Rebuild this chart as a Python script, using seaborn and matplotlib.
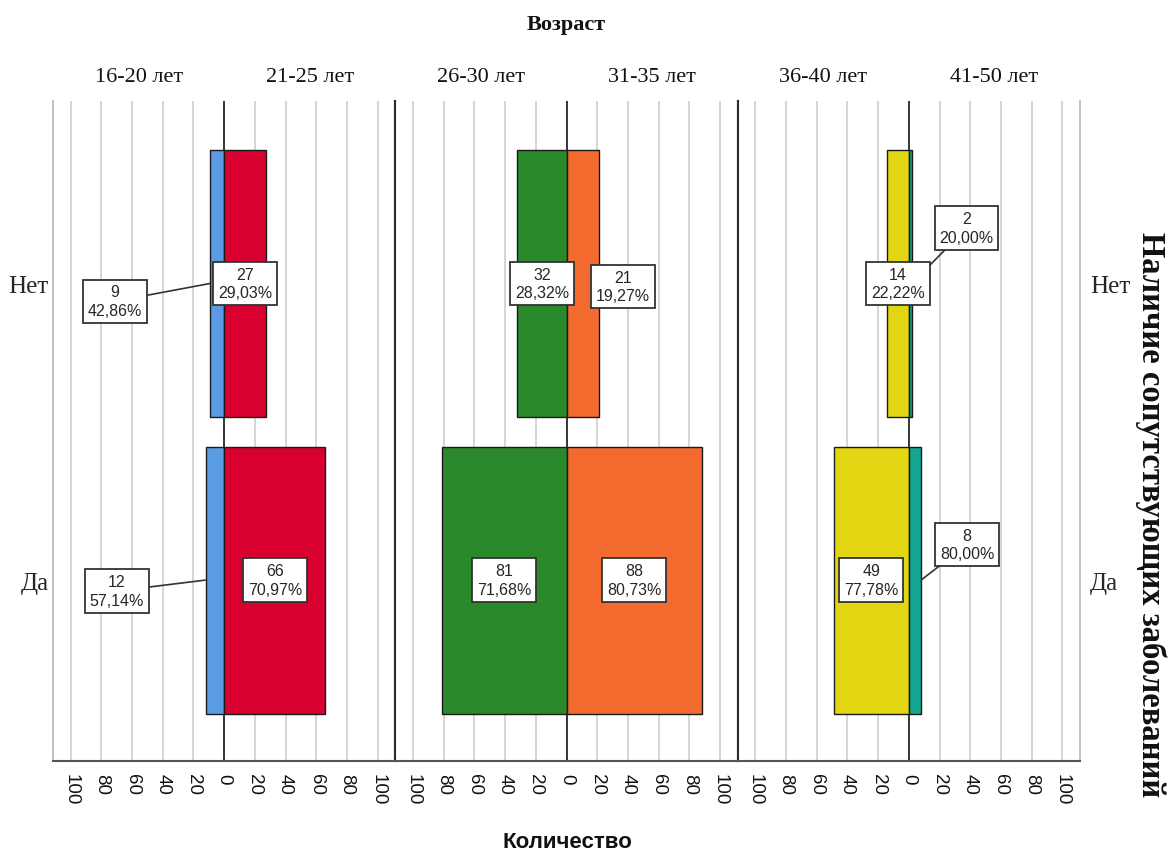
import matplotlib
matplotlib.use('Agg')
import matplotlib.pyplot as plt
import matplotlib.transforms as mtransforms
import seaborn as sns
import pandas as pd

# ---------------- data ----------------
age_groups = ['16-20 лет', '21-25 лет', '26-30 лет', '31-35 лет', '36-40 лет', '41-50 лет']
categories = ['Нет', 'Да']
counts_no = [9, 27, 32, 21, 14, 2]
counts_yes = [12, 66, 81, 88, 49, 8]
x_ticks = [-100, -80, -60, -40, -20, 0, 20, 40, 60, 80, 100]

title_top = 'Возраст'
x_title = 'Количество'
y_title = 'Наличие сопутствующих заболеваний'

# ---------------- style ----------------
colors = ['#5A9BE4', '#D7002F', '#2A8A2B', '#F26A2D', '#E2D612', '#13A58F']
XMAX = 111.5
# label overrides: (group index, category) -> (x, y offset, draw connector)
label_override = {
    (0, 'Нет'): (-71, 0.06, True),
    (0, 'Да'): (-70, 0.037, True),
    (3, 'Нет'): (37, 0.01, False),
    (5, 'Нет'): (37.6, -0.187, True),
    (5, 'Да'): (38, -0.12, True),
}

sns.set_style('white')
plt.rcParams['font.family'] = ['Liberation Sans', 'DejaVu Sans']
SERIF = ['Liberation Serif', 'DejaVu Serif']

rows = []
for i, g in enumerate(age_groups):
    total = counts_no[i] + counts_yes[i]
    for cat, c in zip(categories, [counts_no[i], counts_yes[i]]):
        sign = -1 if i % 2 == 0 else 1
        rows.append(dict(group=i, age=g, cat=cat, count=c, signed=sign * c,
                         pct=100.0 * c / total))
df = pd.DataFrame(rows)

fig, axes = plt.subplots(1, 3, figsize=(11.68, 8.54), dpi=100)
fig.subplots_adjust(left=53 / 1168, right=1080 / 1168, top=1 - 102 / 854,
                    bottom=1 - 762 / 854, wspace=0)

for p, ax in enumerate(axes):
    for gi in (2 * p, 2 * p + 1):
        sub = df[df.group == gi]
        sns.barplot(data=sub, x='signed', y='cat', order=categories, orient='h',
                    color=colors[gi], saturation=1, width=0.9, errorbar=None,
                    edgecolor='#1a1a1a', linewidth=1.0, ax=ax, zorder=3)
        # labels
        for _, r in sub.iterrows():
            yi = categories.index(r['cat'])
            key = (gi, r['cat'])
            txt = f"{r['count']}\n{r['pct']:.2f}%".replace('.', ',')
            if key in label_override:
                lx, dy, conn = label_override[key]
                ly = yi + dy
                if conn:
                    ax.plot([lx, r['signed']], [ly, yi], color='#333333', lw=1.2,
                            zorder=4, solid_capstyle='butt')
            else:
                lx, ly = r['signed'] / 2, yi
            ax.text(lx, ly, txt, ha='center', va='center', fontsize=11.5,
                    linespacing=1.3, zorder=6,
                    bbox=dict(boxstyle='square,pad=0.3', fc='white', ec='#333333', lw=1.3))
        # age label above half panel
        trans = mtransforms.blended_transform_factory(ax.transData, ax.transAxes)
        hx = -XMAX / 2 if gi % 2 == 0 else XMAX / 2
        ax.text(hx, 1 + 24 / 660, age_groups[gi], transform=trans, ha='center',
                va='center', fontsize=16, family=SERIF, color='#111111')

    ax.set_xlim(-XMAX, XMAX)
    ax.set_ylim(1.61, -0.615)
    ax.set_xticks(x_ticks)
    ax.set_xticklabels([str(abs(t)) for t in x_ticks], rotation=270, fontsize=13.5)
    ax.tick_params(axis='x', length=0, pad=9, colors='#111111')
    ax.grid(axis='x', color='#d2d2d2', lw=1.3, zorder=0)
    ax.grid(axis='y', visible=False)
    ax.set_axisbelow(True)
    ax.axvline(0, color='#2b2b2b', lw=1.3, zorder=1)
    ax.set_xlabel('')
    ax.set_ylabel('')
    ax.spines['top'].set_visible(False)
    ax.spines['bottom'].set_color('#555555')
    ax.spines['bottom'].set_linewidth(1.5)
    for s in ('left', 'right'):
        ax.spines[s].set_color('#2b2b2b')
        ax.spines[s].set_linewidth(1.5)
    ax.tick_params(axis='y', length=0)
    if p == 0:
        ax.spines['left'].set_color('#b5b5b5')
        ax.spines['left'].set_linewidth(1.2)
        ax.tick_params(axis='y', pad=3)
        for lab in ax.get_yticklabels():
            lab.set_fontfamily(SERIF)
            lab.set_fontsize(18)
    else:
        ax.tick_params(axis='y', labelleft=False)
    if p == 2:
        ax.spines['right'].set_color('#b5b5b5')
        ax.spines['right'].set_linewidth(1.2)
        ax.tick_params(axis='y', labelright=True, pad=7)
        for lab in ax.get_yticklabels():
            lab.set_fontfamily(SERIF)
            lab.set_fontsize(18)

fig.text(566 / 1168, 1 - 25 / 854, title_top, ha='center', va='center',
         fontsize=16, fontweight='bold', family=SERIF, color='#111111')
fig.text(567 / 1168, 1 - 843 / 854, x_title, ha='center', va='center',
         fontsize=16, fontweight='bold', color='#111111')
fig.text(1151 / 1168, 1 - 515 / 854, y_title, ha='center', va='center',
         rotation=270, fontsize=23.5, fontweight='bold', family=SERIF, color='#111111')

fig.savefig('out.png', dpi=100)
